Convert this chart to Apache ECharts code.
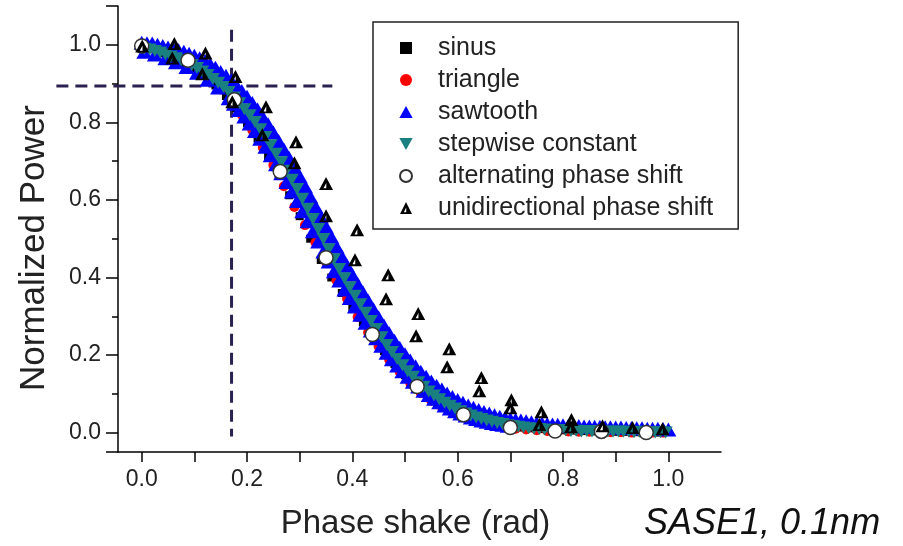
<!DOCTYPE html>
<html><head><meta charset="utf-8">
<script src="https://cdn.jsdelivr.net/npm/echarts@6/dist/echarts.min.js"></script>
<style>html,body{margin:0;padding:0;background:#fff}#c{width:903px;height:546px}</style>
</head><body><div id="c"></div>
<script>
const seriesNames = ['sinus','triangle','sawtooth','stepwise constant','alternating phase shift','unidirectional phase shift'];
const xTitle = 'Phase shake (rad)';
const yTitle = 'Normalized Power';
const noteText = 'SASE1, 0.1nm';
const hGuide = [[-0.162,0.894],[0.362,0.894]];
const vGuide = [[0.1706,1.039],[0.1706,-0.01]];

const sinusData = [[0.00,1.0],[0.02,0.99],[0.04,0.978],[0.06,0.965],[0.08,0.953],[0.10,0.94],[0.12,0.92],[0.14,0.895],[0.16,0.868],[0.18,0.836],[0.20,0.798],[0.22,0.758],[0.24,0.712],[0.26,0.665],[0.28,0.612],[0.30,0.558],[0.32,0.5],[0.34,0.445],[0.36,0.4],[0.38,0.36],[0.40,0.322],[0.42,0.284],[0.44,0.245],[0.46,0.21],[0.48,0.177],[0.50,0.148],[0.52,0.122],[0.54,0.1],[0.56,0.081],[0.58,0.065],[0.60,0.052],[0.62,0.042],[0.64,0.034],[0.66,0.027],[0.68,0.021],[0.70,0.017],[0.72,0.013],[0.74,0.011],[0.76,0.009],[0.78,0.007],[0.80,0.006],[0.82,0.005],[0.84,0.004],[0.86,0.003],[0.88,0.003],[0.90,0.002],[0.92,0.002],[0.94,0.001],[0.96,0.001],[0.98,0.0]];

const triangleData = [[0.01,0.99],[0.03,0.982],[0.05,0.972],[0.07,0.962],[0.09,0.95],[0.11,0.932],[0.13,0.91],[0.15,0.885],[0.17,0.855],[0.19,0.82],[0.21,0.78],[0.23,0.735],[0.25,0.69],[0.27,0.635],[0.29,0.582],[0.31,0.535],[0.33,0.49],[0.35,0.44],[0.37,0.392],[0.39,0.345],[0.41,0.298],[0.43,0.258],[0.45,0.222],[0.47,0.188],[0.49,0.156],[0.51,0.127],[0.53,0.102],[0.55,0.082],[0.57,0.066],[0.59,0.052],[0.61,0.041],[0.63,0.032],[0.65,0.025],[0.67,0.019],[0.69,0.014],[0.71,0.01],[0.73,0.008],[0.75,0.006],[0.77,0.004],[0.79,0.003],[0.81,0.003],[0.83,0.002],[0.85,0.002],[0.87,0.001],[0.89,0.001],[0.91,0.001],[0.93,0.0],[0.95,0.0],[0.97,0.0],[0.99,0.0]];

const sawtoothData = [[0.00,1.005],[0.01,1.004],[0.02,1.003],[0.03,1.0],[0.04,0.997],[0.05,0.993],[0.06,0.99],[0.07,0.986],[0.08,0.982],[0.09,0.977],[0.10,0.972],[0.11,0.965],[0.12,0.958],[0.13,0.95],[0.14,0.941],[0.15,0.93],[0.16,0.92],[0.17,0.908],[0.18,0.895],[0.19,0.881],[0.20,0.866],[0.21,0.85],[0.22,0.833],[0.23,0.814],[0.24,0.795],[0.25,0.774],[0.26,0.752],[0.27,0.73],[0.28,0.708],[0.29,0.685],[0.30,0.661],[0.31,0.635],[0.32,0.609],[0.33,0.583],[0.34,0.557],[0.35,0.531],[0.36,0.505],[0.37,0.479],[0.38,0.454],[0.39,0.43],[0.40,0.407],[0.41,0.384],[0.42,0.362],[0.43,0.34],[0.44,0.318],[0.45,0.297],[0.46,0.276],[0.47,0.256],[0.48,0.237],[0.49,0.219],[0.50,0.202],[0.51,0.186],[0.52,0.171],[0.53,0.157],[0.54,0.144],[0.55,0.132],[0.56,0.121],[0.57,0.111],[0.58,0.101],[0.59,0.092],[0.60,0.084],[0.61,0.077],[0.62,0.07],[0.63,0.064],[0.64,0.058],[0.65,0.053],[0.66,0.049],[0.67,0.045],[0.68,0.041],[0.69,0.038],[0.70,0.035],[0.71,0.033],[0.72,0.031],[0.73,0.029],[0.74,0.027],[0.75,0.025],[0.76,0.024],[0.77,0.022],[0.78,0.021],[0.79,0.02],[0.80,0.019],[0.81,0.018],[0.82,0.018],[0.83,0.017],[0.84,0.016],[0.85,0.016],[0.86,0.015],[0.87,0.015],[0.88,0.014],[0.89,0.014],[0.90,0.013],[0.91,0.013],[0.92,0.012],[0.93,0.012],[0.94,0.011],[0.95,0.011],[0.96,0.01],[0.97,0.01],[0.98,0.01],[0.99,0.009],[1.00,0.008],
[0.005,0.982],[0.025,0.975],[0.045,0.965],[0.065,0.955],[0.085,0.943],[0.105,0.928],[0.125,0.91],[0.145,0.89],[0.165,0.862],[0.175,0.848],[0.185,0.832],[0.195,0.815],[0.205,0.797],[0.215,0.778],[0.225,0.758],[0.235,0.737],[0.245,0.715],[0.255,0.692],[0.265,0.669],[0.275,0.646],[0.285,0.622],[0.295,0.597],[0.305,0.571],[0.315,0.545],[0.325,0.519],[0.335,0.493],[0.345,0.467],[0.355,0.441],[0.365,0.416],[0.375,0.392],[0.385,0.369],[0.395,0.347],[0.405,0.325],[0.415,0.304],[0.425,0.283],[0.435,0.263],[0.445,0.243],[0.455,0.224],[0.465,0.206],[0.475,0.189],[0.485,0.173],[0.495,0.158],[0.505,0.144],[0.515,0.131],[0.525,0.119],[0.535,0.108],[0.545,0.097],[0.555,0.087],[0.565,0.078],[0.575,0.07],[0.585,0.062],[0.595,0.055],[0.605,0.049],[0.615,0.044],[0.625,0.039],[0.635,0.035],[0.645,0.031],[0.655,0.028],[0.665,0.025],[0.675,0.022],[0.685,0.02],[0.695,0.018]];

const stepwiseData = [[0.005,0.99],[0.015,0.988],[0.025,0.984],[0.035,0.98],[0.045,0.975],[0.055,0.97],[0.065,0.965],[0.075,0.96],[0.085,0.954],[0.095,0.948],[0.105,0.94],[0.115,0.931],[0.125,0.922],[0.135,0.912],[0.145,0.902],[0.155,0.891],[0.165,0.878],[0.175,0.864],[0.185,0.849],[0.195,0.834],[0.205,0.818],[0.215,0.801],[0.225,0.782],[0.235,0.762],[0.245,0.741],[0.255,0.719],[0.265,0.697],[0.275,0.675],[0.285,0.652],[0.295,0.628],[0.305,0.603],[0.315,0.577],[0.325,0.551],[0.335,0.525],[0.345,0.499],[0.355,0.473],[0.365,0.447],[0.375,0.422],[0.385,0.398],[0.395,0.375],[0.405,0.353],[0.415,0.331],[0.425,0.309],[0.435,0.288],[0.445,0.267],[0.455,0.246],[0.465,0.226],[0.475,0.208],[0.485,0.19],[0.495,0.174],[0.505,0.158],[0.515,0.144],[0.525,0.13],[0.535,0.118],[0.545,0.106],[0.555,0.096],[0.565,0.086],[0.575,0.077],[0.585,0.069],[0.595,0.062],[0.605,0.055],[0.615,0.049],[0.625,0.044],[0.635,0.039],[0.645,0.035],[0.655,0.031],[0.665,0.028],[0.675,0.025],[0.685,0.022],[0.695,0.019],[0.705,0.017],[0.715,0.015],[0.725,0.013],[0.735,0.011],[0.745,0.01],[0.755,0.009],[0.765,0.008],[0.775,0.007],[0.785,0.006],[0.795,0.006],[0.805,0.006],[0.815,0.004],[0.825,0.005],[0.835,0.003],[0.845,0.004],[0.855,0.003],[0.865,0.004],[0.875,0.002],[0.885,0.003],[0.895,0.002],[0.905,0.003],[0.915,0.002],[0.925,0.002],[0.935,0.001],[0.945,0.002],[0.955,0.001],[0.965,0.001],[0.975,0.0],[0.985,0.001],[0.995,0.0]];

const alternatingData = [[0.0,0.997],[0.088,0.96],[0.176,0.858],[0.263,0.673],[0.35,0.451],[0.438,0.253],[0.523,0.119],[0.611,0.046],[0.7,0.013],[0.785,0.004],[0.873,0.003],[0.958,0.0]];

const unidirectionalData = [[0.001,0.997],[0.062,1.003],[0.058,0.966],[0.121,0.979],[0.115,0.925],[0.178,0.918],[0.172,0.853],[0.236,0.84],[0.229,0.768],[0.293,0.75],[0.29,0.696],[0.35,0.642],[0.35,0.559],[0.409,0.523],[0.405,0.446],[0.468,0.407],[0.464,0.345],[0.525,0.307],[0.521,0.25],[0.584,0.216],[0.58,0.17],[0.645,0.142],[0.641,0.108],[0.702,0.085],[0.7,0.064],[0.759,0.054],[0.755,0.021],[0.816,0.034],[0.815,0.015],[0.875,0.018],[0.932,0.013],[0.989,0.01]];

const FONT = '"Liberation Sans", Arial, Helvetica, sans-serif';
const squareSym = 'path://M0,0 L10,0 L10,10 L0,10 Z';
const upTri = 'path://M5,0 L10,9 L0,9 Z';
const downTri = 'path://M0,0 L10,0 L5,9 Z';
const uniSymbol = 'path://M0,10 L5,0 L10,10 Z M3.2,8.6 L5.2,8.6 L5.2,4.6 Z';
const guideStyle = {color:'#2b2150', width:3, type:[12,7]};

// main grid: left 118, right edge 721 (span -0.045..1.1); guide grid starts at 0 with identical scale
const X_MIN = -0.045, X_MAX = 1.1, Y_MIN = -0.05, Y_MAX = 1.1;
const GRID_LEFT = 118, GRID_RIGHT = 182;
const plotW = 903 - GRID_LEFT - GRID_RIGHT;
const guideXMin = X_MIN - GRID_LEFT * (X_MAX - X_MIN) / plotW;

const axisLineStyle = {color:'#000', width:1.5};
const chart = echarts.init(document.getElementById('c'), null, {renderer:'canvas'});
chart.setOption({
  animation:false,
  backgroundColor:'#fff',
  textStyle:{fontFamily:FONT},
  title:{text:noteText, left:639, top:501, textStyle:{fontSize:36, fontStyle:'italic', fontWeight:'normal', color:'#111', fontFamily:FONT}},
  grid:[
    {left:GRID_LEFT, right:GRID_RIGHT, top:6, bottom:94, containLabel:false},
    {left:0, right:GRID_RIGHT, top:6, bottom:94, containLabel:false}
  ],
  legend:{orient:'vertical', left:373, top:22, padding:[13,25,8,26], itemWidth:54, itemHeight:12, itemGap:6,
    borderColor:'#222', borderWidth:1.5, backgroundColor:'#fff',
    textStyle:{fontSize:25, color:'#222', lineHeight:26, fontFamily:FONT}, data:seriesNames},
  xAxis:[{type:'value', gridIndex:0, min:X_MIN, max:X_MAX, splitNumber:11,
    axisLine:{onZero:false, lineStyle:axisLineStyle},
    axisTick:{length:10, lineStyle:axisLineStyle},
    splitLine:{show:false},
    axisLabel:{fontSize:23, color:'#222', margin:16, fontFamily:FONT, showMinLabel:false, showMaxLabel:false,
      formatter:function(v){const r=Math.round(v*10); if(Math.abs(v*10-r)>1e-6) return ''; return (r%2===0)? (r/10).toFixed(1):'';}},
    name:xTitle, nameLocation:'middle', nameGap:55, nameTextStyle:{fontSize:33, color:'#222', fontFamily:FONT, padding:[0,8,0,0]}},
    {type:'value', gridIndex:1, min:guideXMin, max:X_MAX, show:false, splitLine:{show:false}}],
  yAxis:[{type:'value', gridIndex:0, min:Y_MIN, max:Y_MAX, splitNumber:5,
    axisLine:{onZero:false, lineStyle:axisLineStyle},
    axisTick:{length:12, lineStyle:axisLineStyle},
    minorTick:{show:true, splitNumber:2, length:6, lineStyle:axisLineStyle},
    splitLine:{show:false},
    axisLabel:{fontSize:23, color:'#222', margin:17, fontFamily:FONT, showMinLabel:false, showMaxLabel:false,
      formatter:function(v){return v.toFixed(1);}},
    name:yTitle, nameLocation:'middle', nameGap:66, nameTextStyle:{fontSize:35, color:'#222', fontFamily:FONT, padding:[0,38,0,0]}},
    {type:'value', gridIndex:1, min:Y_MIN, max:Y_MAX, show:false, splitLine:{show:false}}],
  series:[
    {type:'line', xAxisIndex:1, yAxisIndex:1, data:hGuide, symbol:'none', clip:false, lineStyle:guideStyle, silent:true, z:1},
    {type:'line', xAxisIndex:1, yAxisIndex:1, data:vGuide, symbol:'none', clip:false, lineStyle:guideStyle, silent:true, z:1},
    {name:seriesNames[0], type:'scatter', data:sinusData, symbol:squareSym, symbolSize:8, itemStyle:{color:'#000', opacity:1}, z:2},
    {name:seriesNames[1], type:'scatter', data:triangleData, symbol:'circle', symbolSize:10, itemStyle:{color:'#ff0000', opacity:1}, z:2},
    {name:seriesNames[2], type:'scatter', data:sawtoothData, symbol:upTri, symbolSize:[16,14], itemStyle:{color:'#0000ff', opacity:1}, z:2},
    {name:seriesNames[3], type:'scatter', data:stepwiseData, symbol:downTri, symbolSize:[14,12], itemStyle:{color:'#1a7f7f', opacity:1}, z:2},
    {name:seriesNames[4], type:'scatter', data:alternatingData, symbol:'circle', symbolSize:14, itemStyle:{color:'#fff', borderColor:'#333', borderWidth:1.5, opacity:1}, z:3},
    {name:seriesNames[5], type:'scatter', data:unidirectionalData, symbol:uniSymbol, symbolSize:[14,13], itemStyle:{color:'#000', opacity:1}, z:3}
  ]
});
</script></body></html>
